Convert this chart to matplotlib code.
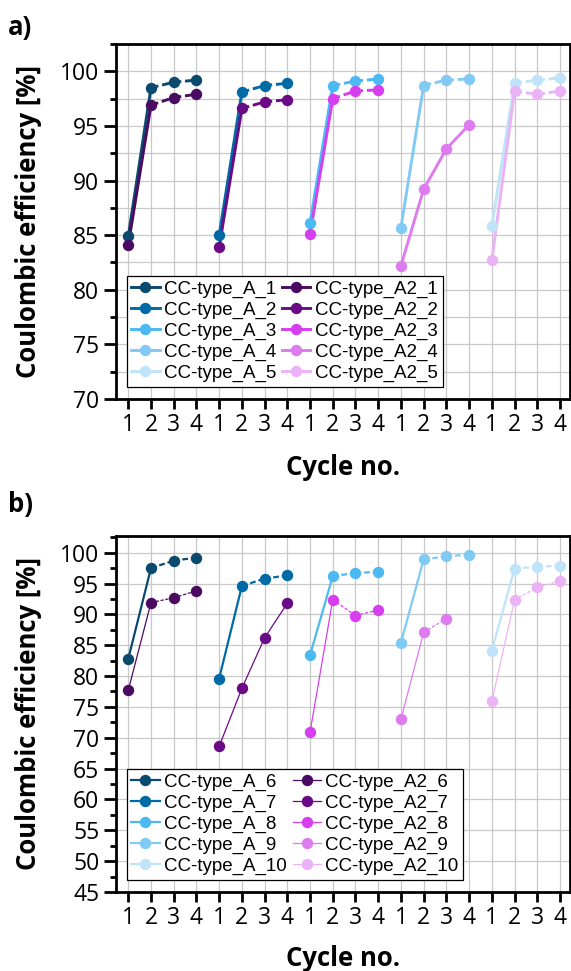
import matplotlib
matplotlib.use('Agg')
import matplotlib.pyplot as plt
from matplotlib.lines import Line2D
from matplotlib.ticker import MultipleLocator, FixedLocator

# ---------------- data ----------------
cycles = [1, 2, 3, 4]
tick_labels = ['1', '2', '3', '4'] * 5

colors_A = ['#0b4a6f', '#006aa6', '#4cb9f2', '#80caf3', '#bfe3f8']
colors_A2 = ['#4b0a62', '#6a0a85', '#d63ef0', '#dd7bef', '#ecb2f6']

# panel a
labels_a_A = ['CC-type_A_1', 'CC-type_A_2', 'CC-type_A_3', 'CC-type_A_4', 'CC-type_A_5']
labels_a_A2 = ['CC-type_A2_1', 'CC-type_A2_2', 'CC-type_A2_3', 'CC-type_A2_4', 'CC-type_A2_5']
a_A = [
    [84.9, 98.5, 99.0, 99.2],
    [85.0, 98.1, 98.7, 98.9],
    [86.1, 98.7, 99.1, 99.3],
    [85.7, 98.7, 99.2, 99.3],
    [85.8, 98.9, 99.2, 99.4],
]
a_A2 = [
    [84.1, 96.9, 97.6, 97.9],
    [83.9, 96.6, 97.2, 97.4],
    [85.1, 97.5, 98.2, 98.3],
    [82.2, 89.2, 92.9, 95.1],
    [82.7, 98.2, 97.9, 98.2],
]
seg_a_A = ['sdd', 'sdd', 'sdd', 'sdd', 'sdd']
seg_a_A2 = ['sdd', 'sdd', 'sdd', 'sss', 'sdd']

# panel b
labels_b_A = ['CC-type_A_6', 'CC-type_A_7', 'CC-type_A_8', 'CC-type_A_9', 'CC-type_A_10']
labels_b_A2 = ['CC-type_A2_6', 'CC-type_A2_7', 'CC-type_A2_8', 'CC-type_A2_9', 'CC-type_A2_10']
b_A = [
    [82.8, 97.5, 98.7, 99.2],
    [79.6, 94.6, 95.8, 96.3],
    [83.4, 96.2, 96.7, 96.9],
    [85.4, 98.9, 99.4, 99.7],
    [84.1, 97.4, 97.7, 97.9],
]
b_A2 = [
    [77.7, 91.9, 92.7, 93.8],
    [68.6, 78.0, 86.2, 91.8],
    [70.9, 92.4, 89.8, 90.7],
    [73.0, 87.1, 89.3],
    [75.9, 92.3, 94.4, 95.4],
]
seg_b_A = ['sdd', 'sdd', 'sdd', 'sdd', 'sdd']
seg_b_A2 = ['sdd', 'sss', 'sdd', 'sd', 'sdd']

# ---------------- style ----------------
TICK_FONT = 'Open Sans'
LEG_FONT = 'Liberation Sans'
plt.rcParams['font.family'] = [TICK_FONT, 'DejaVu Sans']

W, H = 571, 971
fig = plt.figure(figsize=(W / 100, H / 100), dpi=100)


def px_rect(left, top, right, bottom):
    return [left / W, 1 - bottom / H, (right - left) / W, (bottom - top) / H]


DASH = (0, (2.6, 1.3))


def draw_series(ax, vals, segs, color, lw):
    for g, (v, s) in enumerate(zip(vals, segs)):
        x = [4 * g + c for c in cycles[:len(v)]]
        for i in range(len(v) - 1):
            ls = '-' if s[i] == 's' else DASH
            ax.plot(x[i:i + 2], v[i:i + 2], color=color[g], lw=lw, ls=ls,
                    solid_capstyle='butt', dash_capstyle='butt', zorder=3)
        ax.plot(x, v, ls='none', marker='o', ms=8.2, color=color[g],
                markeredgewidth=0, zorder=4)


def setup_axes(ax, ylo, yhi, major, minor, minor_grid):
    ax.set_xlim(0.46, 20.44)
    ax.set_ylim(ylo, yhi)
    ax.xaxis.set_major_locator(FixedLocator(list(range(1, 21))))
    ax.set_xticklabels(tick_labels)
    ax.yaxis.set_major_locator(MultipleLocator(major))
    ax.yaxis.set_minor_locator(MultipleLocator(minor))
    ax.grid(True, which='major', color='#c8c8c8', lw=0.9, zorder=0)
    if minor_grid:
        ax.grid(True, which='minor', axis='y', color='#c8c8c8', lw=0.9, zorder=0)
    ax.set_axisbelow(True)
    for sp in ax.spines.values():
        sp.set_linewidth(2.0)
    ax.tick_params(axis='both', which='major', direction='out', width=2.0,
                   labelsize=16.5, pad=3)
    ax.tick_params(axis='y', which='major', length=9)
    ax.tick_params(axis='y', which='minor', direction='out', length=4.5, width=2.0)
    ax.tick_params(axis='x', which='major', length=7)
    ax.set_ylabel('Coulombic efficiency [%]', fontsize=18.5, fontweight='bold', va='center')
    ax.yaxis.set_label_coords(-0.193, 0.5)
    ax.set_xlabel('Cycle no.', fontsize=18.5, fontweight='bold', va='center')


def add_legend(ax, labA, labA2, lwA, lwA2, y0):
    handles = [Line2D([], [], color=c, lw=lwA, marker='o', ms=8.2, markeredgewidth=0)
               for c in colors_A]
    handles += [Line2D([], [], color=c, lw=lwA2, marker='o', ms=8.2, markeredgewidth=0)
                for c in colors_A2]
    leg = ax.legend(handles, labA + labA2, ncol=2, loc='lower left',
                    bbox_to_anchor=(0.0236, y0), borderaxespad=0,
                    prop={'family': LEG_FONT, 'size': 13.5},
                    fancybox=False, framealpha=1, edgecolor='black',
                    handlelength=1.5, handletextpad=0.25, columnspacing=0.3,
                    labelspacing=0.2, borderpad=0.25)
    leg.get_frame().set_linewidth(0.9)
    leg.set_zorder(10)


# panel a
ax1 = fig.add_axes(px_rect(116, 44, 570, 399))
setup_axes(ax1, 70, 102.5, 5, 2.5, True)
ax1.xaxis.set_label_coords(0.5, -0.192)
draw_series(ax1, a_A, seg_a_A, colors_A, 2.1)
draw_series(ax1, a_A2, seg_a_A2, colors_A2, 2.1)
add_legend(ax1, labels_a_A, labels_a_A2, 2.1, 2.1, 0.0346)

# panel b
ax2 = fig.add_axes(px_rect(116, 536, 570, 892))
setup_axes(ax2, 45, 102.7, 5, 2.5, False)
ax2.xaxis.set_label_coords(0.5, -0.188)
draw_series(ax2, b_A, seg_b_A, colors_A, 1.6)
draw_series(ax2, b_A2, seg_b_A2, colors_A2, 0.9)
add_legend(ax2, labels_b_A, labels_b_A2, 1.6, 0.9, 0.0348)

fig.text(8 / W, 1 - 27 / H, 'a)', fontsize=18.5, fontweight='bold', ha='left', va='center')
fig.text(8 / W, 1 - 504 / H, 'b)', fontsize=18.5, fontweight='bold', ha='left', va='center')

fig.savefig('out.png', dpi=100)
